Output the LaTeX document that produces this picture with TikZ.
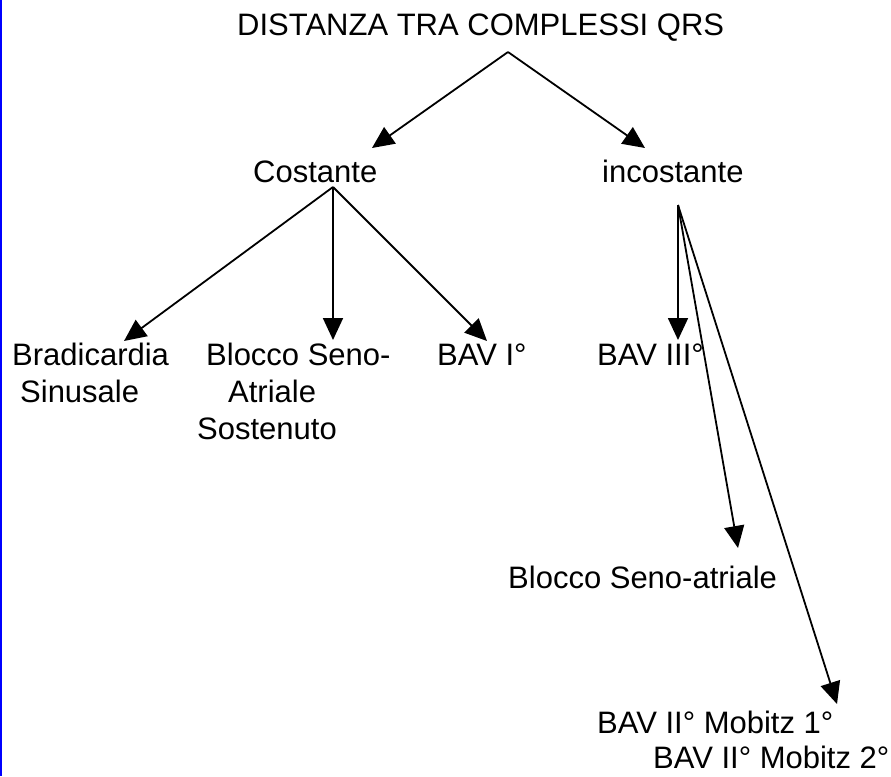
\documentclass[tikz,border=0pt]{standalone}
\usepackage{fontspec}
\setmainfont{Liberation Sans}
\usetikzlibrary{arrows.meta}
\begin{document}
\begin{tikzpicture}[x=1pt,y=-1pt,
  lbl/.style={anchor=base west,inner sep=0pt,font=\fontsize{31}{37}\selectfont},
  arr/.style={line width=1.8pt,-{Triangle[length=22pt,width=20pt]}}]
\useasboundingbox (0,0) rectangle (891,776);
\fill[blue] (0,0) rectangle (2.2,776);
% text nodes
\node[lbl] (title) at (237,36) {DISTANZA TRA COMPLESSI QRS};
\node[lbl] (cost) at (253,182) {Costante};
\node[lbl] (incost) at (602,182) {incostante};
\node[lbl] (brad) at (12,365) {\begin{tabular}[t]{@{}l@{}}Bradicardia\\\hspace*{8pt}Sinusale\end{tabular}};
\node[lbl] (bsas) at (197,365) {\begin{tabular}[t]{@{}l@{}}\hspace*{9pt}Blocco Seno-\\\hspace*{31pt}Atriale\\Sostenuto\end{tabular}};
\node[lbl] (bav1) at (437,365) {BAV I°};
\node[lbl] (bav3) at (597,365) {BAV III°};
\node[lbl] (bsa) at (508,588) {Blocco Seno-atriale};
\node[lbl] (mob) at (597,733) {\begin{tabular}[t]{@{}l@{}}BAV II° Mobitz 1°\\[-2pt]\hspace*{56pt}BAV II° Mobitz 2°\end{tabular}};
% connector ends
\coordinate (fTop) at (508,52);
\coordinate (tCost) at (372,148);
\coordinate (tInc) at (645,148);
\coordinate (fCost) at (333,187);
\coordinate (tBrad) at (124,341);
\coordinate (tBsas) at (333,340);
\coordinate (tBav1) at (487,341);
\coordinate (fInc) at (678,205);
\coordinate (tBav3) at (678,340);
\coordinate (tBsa) at (738,548);
\coordinate (tMob) at (837,704);
% connectors
\draw[arr] (fTop) -- (tCost);
\draw[arr] (fTop) -- (tInc);
\draw[arr] (fCost) -- (tBrad);
\draw[arr] (fCost) -- (tBsas);
\draw[arr] (fCost) -- (tBav1);
\draw[arr] (fInc) -- (tBav3);
\draw[arr] (fInc) -- (tBsa);
\draw[arr] (fInc) -- (tMob);
\end{tikzpicture}
\end{document}
